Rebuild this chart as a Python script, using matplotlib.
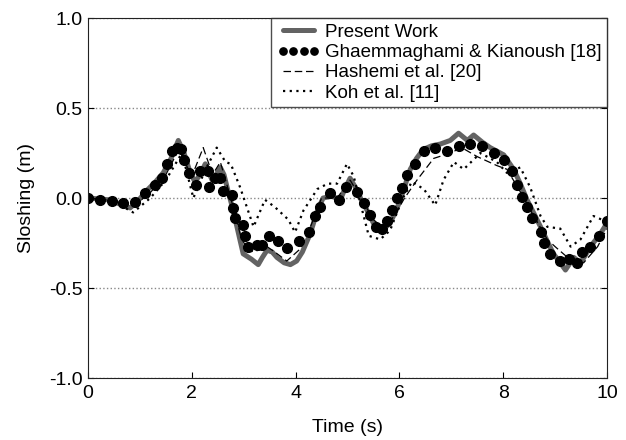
import matplotlib
matplotlib.use("Agg")
import matplotlib.pyplot as plt

plt.rcParams['font.family'] = ['Liberation Sans', 'DejaVu Sans']

# present work (thick gray line)
t_present = [0.0, 0.4, 0.81, 0.95, 1.14, 1.3, 1.45, 1.6, 1.74, 1.85, 1.97, 2.06, 2.16, 2.26, 2.39,
             2.47, 2.55, 2.62, 2.68, 2.78, 2.87, 2.99, 3.15, 3.28, 3.36, 3.45, 3.55, 3.64, 3.78,
             3.9, 4.02, 4.13, 4.28, 4.42, 4.53, 4.7, 4.86, 4.95, 5.05, 5.15, 5.25, 5.38, 5.5,
             5.67, 5.82, 5.92, 6.02, 6.12, 6.21, 6.33, 6.46, 6.62, 6.79, 6.98, 7.14, 7.31, 7.43,
             7.6, 7.75, 8.01, 8.2, 8.33, 8.46, 8.6, 8.72, 8.85, 8.97, 9.1, 9.2, 9.36, 9.49, 9.58,
             9.68, 9.87, 10.0]
y_present = [0.0, -0.01, -0.055, -0.02, 0.044, 0.09, 0.14, 0.22, 0.32, 0.25, 0.14, 0.09, 0.13, 0.19, 0.1,
             0.13, 0.17, 0.13, 0.06, -0.05, -0.16, -0.31, -0.34, -0.37, -0.33, -0.29, -0.3, -0.33, -0.36,
             -0.37, -0.35, -0.3, -0.2, -0.07, 0.0, 0.01, -0.01, 0.05, 0.11, 0.06, 0.0, -0.07, -0.14,
             -0.18, -0.14, -0.08, -0.01, 0.08, 0.16, 0.22, 0.27, 0.29, 0.3, 0.32, 0.36, 0.32, 0.35,
             0.31, 0.28, 0.24, 0.16, 0.08, -0.01, -0.09, -0.16, -0.24, -0.31, -0.36, -0.4, -0.33, -0.36, -0.32,
             -0.27, -0.2, -0.14]

# Ghaemmaghami & Kianoush [18] (dots)
t_ghaem = [0.0, 0.23, 0.46, 0.68, 0.91, 1.10, 1.29, 1.42, 1.53, 1.61, 1.71, 1.79, 1.85, 1.94,
           2.08, 2.16, 2.31, 2.34, 2.45, 2.55, 2.61, 2.77, 2.80, 2.84, 2.98, 3.03, 3.09, 3.25,
           3.35, 3.48, 3.67, 3.83, 4.06, 4.25, 4.38, 4.47, 4.67, 4.83, 4.97, 5.18, 5.31, 5.44,
           5.54, 5.66, 5.76, 5.86, 5.95, 6.05, 6.15, 6.31, 6.47, 6.69, 6.92, 7.14, 7.37, 7.59,
           7.82, 8.01, 8.17, 8.27, 8.36, 8.46, 8.56, 8.72, 8.78, 8.91, 9.10, 9.26, 9.43, 9.52,
           9.68, 9.84, 10.0]
y_ghaem = [0.0, -0.01, -0.015, -0.03, -0.02, 0.026, 0.072, 0.11, 0.19, 0.26, 0.28, 0.27, 0.21, 0.14,
           0.07, 0.15, 0.15, 0.06, 0.11, 0.11, 0.04, 0.017, -0.057, -0.11, -0.15, -0.21, -0.27, -0.26,
           -0.26, -0.21, -0.24, -0.28, -0.24, -0.19, -0.10, -0.05, 0.026, -0.01, 0.06, 0.035, -0.03, -0.094,
           -0.16, -0.17, -0.13, -0.067, 0.0, 0.054, 0.13, 0.19, 0.26, 0.28, 0.26, 0.29, 0.30, 0.29,
           0.25, 0.21, 0.15, 0.07, 0.007, -0.05, -0.11, -0.19, -0.25, -0.31, -0.35, -0.34, -0.36, -0.30,
           -0.27, -0.21, -0.13]

# Hashemi et al. [20] (dashed)
t_hashemi = [0.0, 0.5, 0.9, 1.2, 1.5, 1.75, 2.0, 2.22, 2.4, 2.55, 2.75, 2.95, 3.1, 3.3, 3.45,
             3.6, 3.83, 4.1, 4.3, 4.5, 4.8, 5.05, 5.3, 5.5, 5.7, 5.9, 6.1, 6.34, 6.66, 6.98,
             7.2, 7.5, 7.88, 8.07, 8.3, 8.55, 8.85, 9.0, 9.2, 9.36, 9.55, 9.82, 10.0]
y_hashemi = [0.0, -0.015, -0.04, 0.03, 0.13, 0.27, 0.12, 0.28, 0.13, 0.2, 0.0, -0.22, -0.3, -0.29, -0.27,
             -0.3, -0.35, -0.28, -0.15, 0.0, 0.0, 0.1, -0.02, -0.12, -0.17, -0.1, 0.0, 0.1, 0.22, 0.25,
             0.28, 0.23, 0.18, 0.16, 0.05, -0.08, -0.23, -0.27, -0.32, -0.36, -0.36, -0.27, -0.17]

# Koh et al. [11] (dotted)
t_koh = [0.0, 0.5, 0.87, 1.2, 1.5, 1.81, 2.03, 2.25, 2.48, 2.65, 2.75, 2.93, 3.19, 3.41, 3.6,
         3.86, 3.99, 4.15, 4.42, 4.62, 4.8, 4.99, 5.12, 5.25, 5.41, 5.63, 5.82, 6.05, 6.24,
         6.47, 6.69, 6.85, 7.05, 7.24, 7.56, 7.88, 8.07, 8.33, 8.52, 8.72, 8.85, 9.1, 9.3,
         9.49, 9.74, 9.9, 10.0]
y_koh = [0.0, -0.02, -0.08, 0.0, 0.1, 0.25, 0.0, 0.15, 0.28, 0.2, 0.19, 0.06, -0.16, -0.01, -0.05,
         -0.12, -0.19, -0.07, 0.05, 0.08, 0.08, 0.19, 0.12, -0.03, -0.21, -0.23, -0.18, -0.01, 0.09,
         0.05, -0.04, 0.1, 0.2, 0.16, 0.25, 0.2, 0.14, 0.17, 0.06, -0.1, -0.16, -0.17, -0.27,
         -0.23, -0.1, -0.12, -0.15]

fig = plt.figure(figsize=(6.26, 4.4), dpi=100)
ax = fig.add_axes([0.1406, 0.1409, 0.8290, 0.8181])

ax.plot(t_present, y_present, color='#636363', linewidth=3.6, label='Present Work',
        solid_joinstyle='round', solid_capstyle='round')
ax.plot(t_ghaem, y_ghaem, linestyle='none', marker='o', markersize=7, color='black',
        label='Ghaemmaghami & Kianoush [18]')
ax.plot(t_hashemi, y_hashemi, color='black', linestyle=(0, (6, 3)), linewidth=0.9,
        label='Hashemi et al. [20]')
ax.plot(t_koh, y_koh, color='black', linestyle=(0, (1, 2)), linewidth=1.6,
        label='Koh et al. [11]')

ax.set_xlim(0, 10)
ax.set_ylim(-1, 1)
ax.set_xticks([0, 2, 4, 6, 8, 10])
ax.set_yticks([-1.0, -0.5, 0.0, 0.5, 1.0])
ax.set_yticklabels(['-1.0', '-0.5', '0.0', '0.5', '1.0'])
ax.tick_params(direction='in', length=4, labelsize=14, right=True, top=False)
ax.tick_params(axis='x', pad=5)
ax.tick_params(axis='y', pad=4)
ax.yaxis.grid(True, linestyle=':', color='#888888', linewidth=1)
for s in ax.spines.values():
    s.set_color('#222222')

ax.set_xlabel('Time (s)', fontsize=14, labelpad=12)
ax.set_ylabel('Sloshing (m)', fontsize=14, labelpad=10)

leg = ax.legend(loc='upper right', fontsize=13.5, numpoints=4, handlelength=2.3,
                markerscale=0.75, frameon=True, fancybox=False, borderaxespad=0,
                borderpad=0.3, labelspacing=0.17, handletextpad=0.25)
leg.get_frame().set_edgecolor('#222222')
leg.get_frame().set_linewidth(1)

fig.savefig('out.png', dpi=100)
